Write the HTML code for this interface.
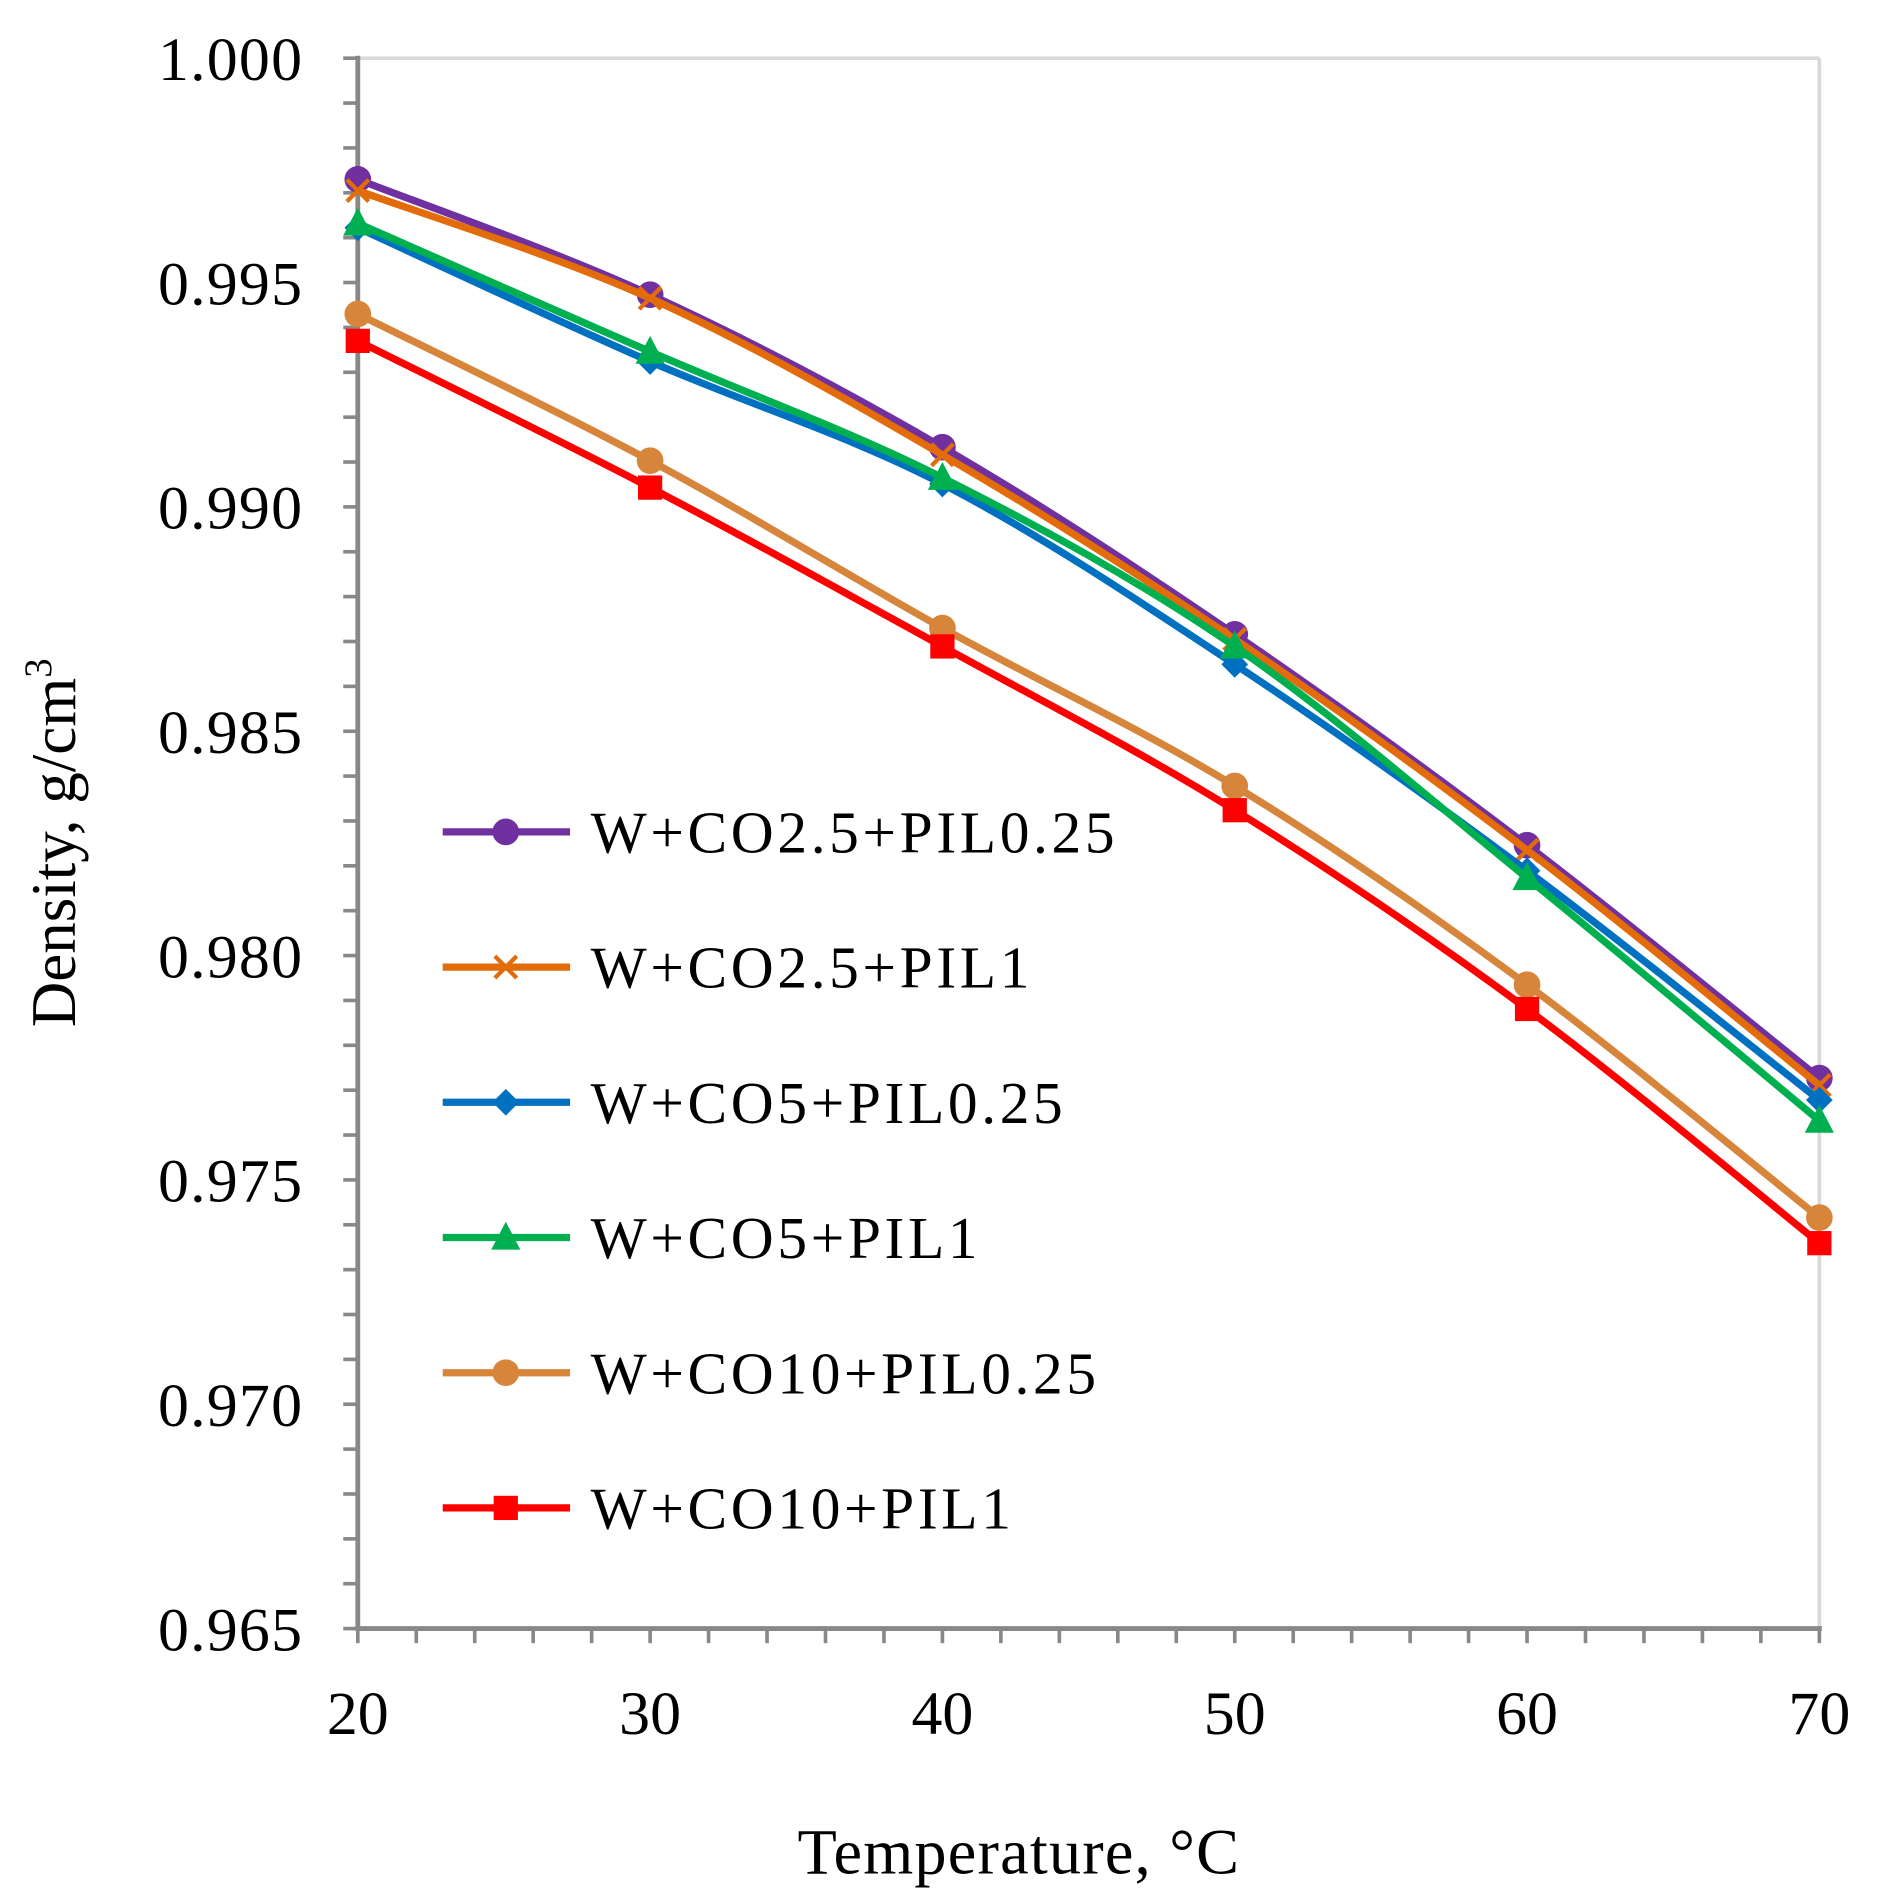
<!DOCTYPE html>
<html><head><meta charset="utf-8"><style>
html,body{margin:0;padding:0;background:#fff}
svg{display:block}
text{font-family:"Liberation Serif",serif;fill:#000}
</style></head><body>
<svg id="chart" width="1880" height="1899" viewBox="0 0 1550 1566" preserveAspectRatio="none" xmlns="http://www.w3.org/2000/svg">
<g id="axes"></g>
<g id="series"></g>
<g id="legend"></g>
<text x="840" y="1545" font-size="53" letter-spacing="1" text-anchor="middle">Temperature, °C</text>
<text transform="translate(62,695) rotate(-90)" font-size="52" text-anchor="middle">Density, g/cm<tspan font-size="32" dy="-20">3</tspan></text>
</svg>
<script>
const temps=[20,30,40,50,60,70];
const seriesNames=["W+CO2.5+PIL0.25","W+CO2.5+PIL1","W+CO5+PIL0.25","W+CO5+PIL1","W+CO10+PIL0.25","W+CO10+PIL1"];
const sPurple=[0.99730,0.99473,0.99133,0.98716,0.98246,0.97727];
const sOrange=[0.99705,0.99465,0.99116,0.98705,0.98235,0.97711];
const sBlue=[0.99622,0.99324,0.99051,0.98649,0.98189,0.97678];
const sGreen=[0.99632,0.99346,0.99065,0.98689,0.98173,0.97632];
const sTan=[0.99430,0.99103,0.98730,0.98378,0.97935,0.97416];
const sRed=[0.99370,0.99043,0.98689,0.98324,0.97881,0.97359];
const yTicks=["0.965","0.970","0.975","0.980","0.985","0.990","0.995","1.000"];
const xTicks=["20","30","40","50","60","70"];
const NS="http://www.w3.org/2000/svg";
const L=295,R=1500,T=48,B=1343,X0=20,X1=70,Y0=0.965,Y1=1.0;
const xs=v=>L+(v-X0)/(X1-X0)*(R-L);
const ys=v=>B-(v-Y0)/(Y1-Y0)*(B-T);
function mk(tag,attrs,parent){const e=document.createElementNS(NS,tag);for(const k in attrs)e.setAttribute(k,attrs[k]);parent.appendChild(e);return e;}
const ax=document.getElementById('axes');
let e;
e=mk('line',{x1:L,y1:T,x2:R,y2:T,stroke:'#d9d9d9','stroke-width':3},ax);


e=mk('line',{x1:R,y1:T,x2:R,y2:B,stroke:'#d9d9d9','stroke-width':3},ax);


for(let v=0.965;v<=1.00001;v+=0.001){
 e=mk('line',{x1:L-12,y1:ys(v),x2:L,y2:ys(v),stroke:'#888','stroke-width':3},ax);
 
 
}
for(let v=20;v<=70;v+=2){
 e=mk('line',{x1:xs(v),y1:B,x2:xs(v),y2:B+12,stroke:'#888','stroke-width':3},ax);
 
 
}
e=mk('line',{x1:L,y1:T-2,x2:L,y2:B+2,stroke:'#888','stroke-width':4},ax);


e=mk('line',{x1:L-2,y1:B,x2:R+2,y2:B,stroke:'#888','stroke-width':4},ax);


yTicks.forEach(t=>{
 e=mk('text',{x:250,y:ys(parseFloat(t))+18,'font-size':51,'letter-spacing':1,'text-anchor':'end'},ax);
 e.textContent=t;
 
 
});
xTicks.forEach(t=>{
 e=mk('text',{x:xs(parseFloat(t)),y:1430,'font-size':51,'text-anchor':'middle'},ax);
 e.textContent=t;
 
 
});
function smooth(pts){
 let d=`M${pts[0][0]},${pts[0][1]}`;
 for(let i=0;i<pts.length-1;i++){
  const p0=pts[i-1]||pts[i],p1=pts[i],p2=pts[i+1],p3=pts[i+2]||p2;
  const c1=[p1[0]+(p2[0]-p0[0])/6,p1[1]+(p2[1]-p0[1])/6];
  const c2=[p2[0]-(p3[0]-p1[0])/6,p2[1]-(p3[1]-p1[1])/6];
  d+=` C${c1[0]},${c1[1]} ${c2[0]},${c2[1]} ${p2[0]},${p2[1]}`;
 }
 return d;
}
function marker(type,x,y,c,g){
 if(type==='circle')return mk('circle',{cx:x,cy:y,r:11,fill:c},g);
 if(type==='square')return mk('rect',{x:x-10,y:y-10,width:20,height:20,fill:c},g);
 if(type==='diamond')return mk('polygon',{points:`${x},${y-11} ${x+11},${y} ${x},${y+11} ${x-11},${y}`,fill:c},g);
 if(type==='triangle')return mk('polygon',{points:`${x},${y-13} ${x+12},${y+10} ${x-12},${y+10}`,fill:c},g);
 return mk('path',{d:`M${x-9},${y-9}L${x+9},${y+9}M${x+9},${y-9}L${x-9},${y+9}`,stroke:c,'stroke-width':3.5},g);
}
const all=[sPurple,sOrange,sBlue,sGreen,sTan,sRed];
const colors=['#7030a0','#e36c0a','#0070c0','#00b050','#d8853c','#ff0000'];
const marks=['circle','x','diamond','triangle','circle','square'];
const keys=['purple','orange','blue','green','tan','red'];
const sg=document.getElementById('series');
const lg=document.getElementById('legend');
all.forEach((vals,i)=>{
 const g=mk('g',{},sg);
 
 
 const pts=vals.map((v,j)=>[xs(temps[j]),ys(v)]);
 const p=mk('path',{d:smooth(pts),fill:'none',stroke:colors[i],'stroke-width':6},g);
 
 
 pts.forEach(pt=>{
  const m=marker(marks[i],pt[0],pt[1],colors[i],g);
  
  
 });
 const ly=686+i*111.5;
 const le=mk('g',{},lg);
 
 
 mk('line',{x1:365,y1:ly,x2:470,y2:ly,stroke:colors[i],'stroke-width':6},le);
 marker(marks[i],417,ly,colors[i],le);
 const t=mk('text',{x:487,y:ly+17,'font-size':49,'letter-spacing':3},le);
 t.textContent=seriesNames[i];
});
</script>
</body></html>
